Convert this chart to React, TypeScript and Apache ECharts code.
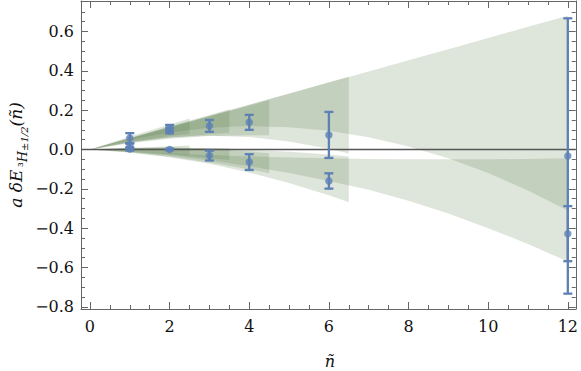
import React, { useEffect, useRef } from "react";
import * as echarts from "echarts";

// ---- axis ranges & ticks ----
const X_MIN = -0.225;
const X_MAX = 12.2;
const Y_MIN = -0.811;
const Y_MAX = 0.755;
const xMajor = [0, 2, 4, 6, 8, 10, 12];
const xMinor = [0.5, 1, 1.5, 2.5, 3, 3.5, 4.5, 5, 5.5, 6.5, 7, 7.5, 8.5, 9, 9.5, 10.5, 11, 11.5];
const yMajor = [-0.8, -0.6, -0.4, -0.2, 0, 0.2, 0.4, 0.6];
const yMinor = [-0.75, -0.7, -0.65, -0.55, -0.5, -0.45, -0.35, -0.3, -0.25, -0.15, -0.1, -0.05,
  0.05, 0.1, 0.15, 0.25, 0.3, 0.35, 0.45, 0.5, 0.55, 0.65, 0.7];

// ---- data points with error bars ----
const ptX = [1, 1, 1, 2, 2, 2, 3, 3, 4, 4, 6, 6, 12, 12];
const ptY = [0.058, 0.018, 0.003, 0.110, 0.096, 0.000, 0.120, -0.031, 0.138, -0.064, 0.074, -0.160, -0.033, -0.428];
const ptErr = [0.025, 0.012, 0.008, 0.015, 0.014, 0.004, 0.030, 0.025, 0.038, 0.040, 0.117, 0.039, 0.700, 0.140];

// ---- fit bands (upper branch) ----
const bandU25X = [0, 1, 2, 2.5];
const bandU25Top = [0, 0.066, 0.127, 0.157];
const bandU25Bot = [0, 0.038, 0.068, 0.080];

const bandU35X = [0, 1, 2, 3, 3.5];
const bandU35Top = [0, 0.059, 0.118, 0.176, 0.205];
const bandU35Bot = [0, 0.034, 0.060, 0.078, 0.085];

const bandU45X = [0, 1, 2, 3, 4, 4.5];
const bandU45Top = [0, 0.056, 0.111, 0.167, 0.222, 0.250];
const bandU45Bot = [0, 0.032, 0.055, 0.068, 0.073, 0.072];

const bandU65X = [0, 1, 2, 3, 4, 5, 6, 6.5];
const bandU65Top = [0, 0.057, 0.114, 0.171, 0.228, 0.285, 0.342, 0.370];
const bandU65Bot = [0, 0.038, 0.062, 0.070, 0.063, 0.041, 0.004, -0.020];

const bandU12X = [0, 1, 2, 3, 4, 5, 6, 7, 8, 9, 10, 11, 12];
const bandU12Top = [0, 0.057, 0.113, 0.170, 0.227, 0.284, 0.340, 0.397, 0.454, 0.510, 0.567, 0.624, 0.680];
const bandU12Bot = [0, 0.050, 0.087, 0.110, 0.119, 0.113, 0.095, 0.062, 0.015, -0.045, -0.120, -0.208, -0.310];

// ---- fit bands (lower branch) ----
const bandL25X = [0, 1, 2, 2.5];
const bandL25Top = [0, 0.008, 0.016, 0.020];
const bandL25Bot = [0, -0.011, -0.022, -0.028];

const bandL35X = [0, 1, 2, 3, 3.5];
const bandL35Top = [0, 0.006, 0.009, 0.008, 0.006];
const bandL35Bot = [0, -0.012, -0.026, -0.044, -0.053];

const bandL45X = [0, 1, 2, 3, 4, 4.5];
const bandL45Top = [0, 0.008, 0.010, 0.004, -0.010, -0.019];
const bandL45Bot = [0, -0.015, -0.037, -0.066, -0.101, -0.121];

const bandL65X = [0, 1, 2, 3, 4, 5, 6, 6.5];
const bandL65Top = [0, 0.007, 0.009, 0.006, -0.001, -0.011, -0.026, -0.035];
const bandL65Bot = [0, -0.015, -0.039, -0.073, -0.117, -0.170, -0.233, -0.268];

const bandL12X = [0, 1, 2, 3, 4, 5, 6, 7, 8, 9, 10, 11, 12];
const bandL12Top = [0, -0.011, -0.020, -0.028, -0.035, -0.041, -0.045, -0.048, -0.050, -0.050, -0.050, -0.048, -0.045];
const bandL12Bot = [0, -0.012, -0.030, -0.055, -0.085, -0.120, -0.160, -0.205, -0.260, -0.325, -0.400, -0.480, -0.570];

const BANDS = [
  { x: bandU12X, top: bandU12Top, bot: bandU12Bot },
  { x: bandU65X, top: bandU65Top, bot: bandU65Bot },
  { x: bandU45X, top: bandU45Top, bot: bandU45Bot },
  { x: bandU35X, top: bandU35Top, bot: bandU35Bot },
  { x: bandU25X, top: bandU25Top, bot: bandU25Bot },
  { x: bandL12X, top: bandL12Top, bot: bandL12Bot },
  { x: bandL65X, top: bandL65Top, bot: bandL65Bot },
  { x: bandL45X, top: bandL45Top, bot: bandL45Bot },
  { x: bandL35X, top: bandL35Top, bot: bandL35Bot },
  { x: bandL25X, top: bandL25Top, bot: bandL25Bot },
];

const BLUE = "#5e81b5";
const BAND_FILL = "rgb(80,115,65)";
const BAND_OPACITY = 0.19;
const FRAME = "#666";
const FONT = "DejaVu Serif";

const fmtNum = (v: number, d: number) => {
  const s = Math.abs(v).toFixed(d);
  return v < -1e-9 ? "\u2212" + s : s;
};

function makeAxis(kind: "x" | "y", position: string, ticks: number[], len: number, showLine: boolean, showLabel: boolean) {
  const isX = kind === "x";
  return {
    type: "value",
    gridIndex: 0,
    position,
    min: isX ? X_MIN : Y_MIN,
    max: isX ? X_MAX : Y_MAX,
    axisLine: { show: showLine, onZero: false, lineStyle: { color: FRAME, width: 1 } },
    axisTick: {
      show: true,
      inside: true,
      length: len,
      customValues: ticks,
      lineStyle: { color: FRAME, width: 1 },
    },
    axisLabel: {
      show: showLabel,
      customValues: ticks,
      margin: isX ? 9 : 7,
      fontFamily: FONT,
      fontSize: 16,
      color: "#111",
      formatter: (v: number) => (isX ? fmtNum(v, 0) : fmtNum(v, 1)),
    },
    splitLine: { show: false },
    minorTick: { show: false },
  };
}

export default function App() {
  const ref = useRef<HTMLDivElement>(null);
  useEffect(() => {
    if (!ref.current) return;
    const chart = echarts.init(ref.current, undefined, { renderer: "svg" });

    const ebData = ptX.map((x, i) => [x, ptY[i], ptErr[i]]);
    const scData = ptX.map((x, i) => [x, ptY[i]]);

    const option: any = {
      animation: false,
      backgroundColor: "#fff",
      grid: { left: 81, top: 1, width: 497, height: 308, containLabel: false },
      xAxis: [
        makeAxis("x", "bottom", xMajor, 7, true, true),
        makeAxis("x", "bottom", xMinor, 4, false, false),
        makeAxis("x", "top", xMajor, 7, true, false),
        makeAxis("x", "top", xMinor, 4, false, false),
      ],
      yAxis: [
        makeAxis("y", "left", yMajor, 7, true, true),
        makeAxis("y", "left", yMinor, 4, false, false),
        makeAxis("y", "right", yMajor, 7, true, false),
        makeAxis("y", "right", yMinor, 4, false, false),
      ],
      series: [
        {
          type: "custom",
          xAxisIndex: 0,
          yAxisIndex: 0,
          z: 1,
          data: BANDS.map((_, i) => [i]),
          encode: { x: [], y: [] },
          renderItem: (params: any, api: any) => {
            const b = BANDS[params.dataIndex];
            const pts: number[][] = [];
            for (let k = 0; k < b.x.length; k++) pts.push(api.coord([b.x[k], b.top[k]]));
            for (let k = b.x.length - 1; k >= 0; k--) pts.push(api.coord([b.x[k], b.bot[k]]));
            return {
              type: "polygon",
              shape: { points: pts },
              style: { fill: BAND_FILL, opacity: BAND_OPACITY, stroke: "none" },
            };
          },
        },
        {
          type: "line",
          xAxisIndex: 0,
          yAxisIndex: 0,
          z: 3,
          data: [[X_MIN, 0], [X_MAX, 0]],
          symbol: "none",
          lineStyle: { color: "#555", width: 1.5 },
          silent: true,
        },
        {
          type: "custom",
          xAxisIndex: 0,
          yAxisIndex: 0,
          z: 5,
          data: ebData,
          encode: { x: 0, y: 1 },
          renderItem: (params: any, api: any) => {
            const x = api.value(0);
            const y = api.value(1);
            const e = api.value(2);
            const t = api.coord([x, y + e]);
            const b = api.coord([x, y - e]);
            const hw = 4.5;
            const style = { stroke: BLUE, lineWidth: 2.3, fill: "none" };
            return {
              type: "group",
              children: [
                { type: "line", shape: { x1: t[0], y1: t[1], x2: b[0], y2: b[1] }, style },
                { type: "line", shape: { x1: t[0] - hw, y1: t[1], x2: t[0] + hw, y2: t[1] }, style },
                { type: "line", shape: { x1: b[0] - hw, y1: b[1], x2: b[0] + hw, y2: b[1] }, style },
              ],
            };
          },
        },
        {
          type: "scatter",
          xAxisIndex: 0,
          yAxisIndex: 0,
          z: 6,
          data: scData,
          symbol: "circle",
          symbolSize: 7.5,
          itemStyle: { color: BLUE },
        },
      ],
      graphic: [
        {
          type: "text",
          x: 16,
          y: 155,
          rotation: Math.PI / 2,
          style: {
            text: "{m|a δE}{g| }{s|³}{h|H}{t|±1/2}{m|(ñ)}",
            align: "center",
            verticalAlign: "middle",
            rich: {
              m: { fontFamily: FONT, fontStyle: "italic", fontSize: 17, lineHeight: 26, fill: "#111", verticalAlign: "middle" },
              g: { fontFamily: FONT, fontSize: 8, lineHeight: 26 },
              s: { fontFamily: FONT, fontSize: 12, lineHeight: 12, fill: "#111", verticalAlign: "bottom" },
              h: { fontFamily: FONT, fontStyle: "italic", fontSize: 13, lineHeight: 12, fill: "#111", verticalAlign: "bottom" },
              t: { fontFamily: FONT, fontStyle: "italic", fontSize: 10, lineHeight: 8, fill: "#111", verticalAlign: "bottom" },
            },
          },
        },
        {
          type: "text",
          x: 330,
          y: 361,
          style: {
            text: "ñ",
            fontFamily: FONT,
            fontStyle: "italic",
            fontSize: 16,
            fill: "#111",
            align: "center",
            verticalAlign: "middle",
          },
        },
      ],
    };
    chart.setOption(option);
    return () => chart.dispose();
  }, []);
  return (
    <div
      ref={ref}
      style={{ position: "fixed", left: 0, top: 0, width: 581, height: 371, background: "#fff" }}
    />
  );
}
